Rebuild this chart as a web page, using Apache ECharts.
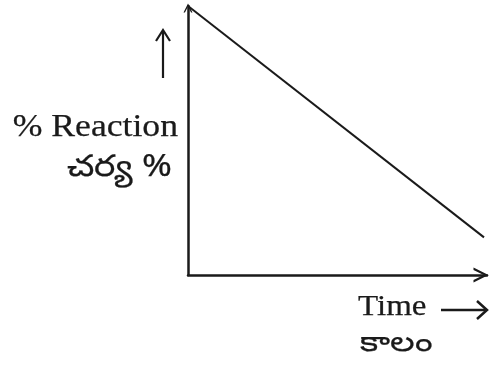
<!DOCTYPE html>
<html><head><meta charset="utf-8">
<script src="https://cdn.jsdelivr.net/npm/echarts@6/dist/echarts.min.js"></script>
<style>html,body{margin:0;padding:0;background:#fff}#c{width:490px;height:367px}</style>
</head><body><div id="c"></div>
<script>
const timeValues = [0, 99];
const reactionValues = [100, 14];
const yLabelEn = '% Reaction';
const yLabelTe = 'చర్య %';
const xLabelEn = 'Time';
const xLabelTe = 'కాలం';

const ink = '#1a1a1a';
const chevron = 'path://M0,10 L5,0 L10,10 L8.4,10 L5,3.2 L1.6,10 Z';
const chart = echarts.init(document.getElementById('c'));
function txt(x, y, s, font, align, sx) {
  return {type: 'text', x: x, y: y, scaleX: sx, style: {text: s, font: font, fill: ink, stroke: ink, lineWidth: 0.25, align: align, verticalAlign: 'middle'}};
}
chart.setOption({
  animation: false,
  grid: {left: 188, right: 3, top: 6, bottom: 92},
  xAxis: {type: 'value', min: 0, max: 100, axisTick: {show: false}, axisLabel: {show: false}, splitLine: {show: false},
    axisLine: {lineStyle: {color: ink, width: 2.5}, symbol: ['none', chevron], symbolSize: [22, 15], symbolOffset: [0, -6]}},
  yAxis: {type: 'value', min: 0, max: 100, axisTick: {show: false}, axisLabel: {show: false}, splitLine: {show: false},
    axisLine: {lineStyle: {color: ink, width: 2.5}, symbol: ['none', chevron], symbolSize: [14, 9], symbolOffset: [0, -2]}},
  series: [{type: 'line', data: timeValues.map((t, i) => [t, reactionValues[i]]), showSymbol: false,
    lineStyle: {color: ink, width: 2}}],
  graphic: [
    {type: 'line', shape: {x1: 163, y1: 32, x2: 163, y2: 78}, style: {stroke: ink, lineWidth: 2.2}},
    {type: 'polyline', shape: {points: [[156, 41], [163, 30], [170, 41]]}, style: {stroke: ink, lineWidth: 2.2, fill: null}},
    txt(178, 128, yLabelEn, '31px "Liberation Serif", serif', 'right', 1.15),
    txt(172, 167, yLabelTe, '30px "Noto Sans", sans-serif', 'right', 1.2),
    txt(358, 307, xLabelEn, '30px "Liberation Serif", serif', 'left', 1.1),
    {type: 'line', shape: {x1: 441, y1: 310, x2: 486, y2: 310}, style: {stroke: ink, lineWidth: 2.5}},
    {type: 'polyline', shape: {points: [[477, 301], [487, 310], [477, 319]]}, style: {stroke: ink, lineWidth: 2.5, fill: null}},
    txt(360, 343, xLabelTe, '28px "Noto Sans", sans-serif', 'left', 1.24)
  ]
});
</script></body></html>
